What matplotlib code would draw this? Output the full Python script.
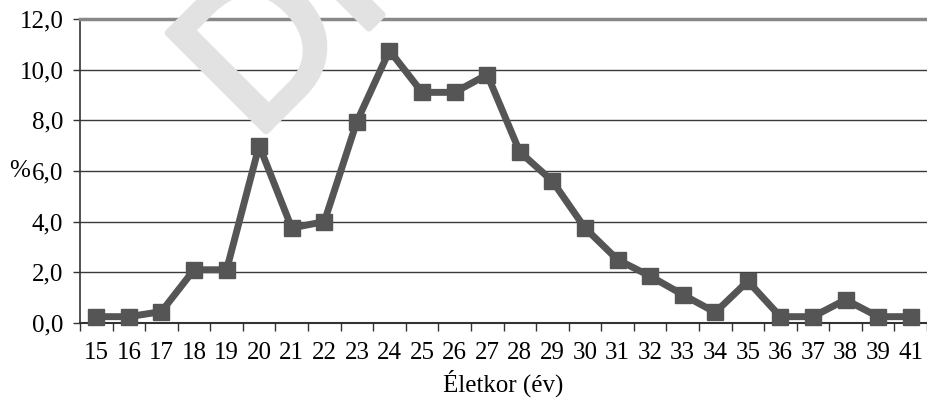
import matplotlib
matplotlib.use("Agg")
import matplotlib.pyplot as plt
import matplotlib.patheffects as pe
import numpy as np

ages = ["15", "16", "17", "18", "19", "20", "21", "22", "23", "24", "25", "26", "27",
        "28", "29", "30", "31", "32", "33", "34", "35", "36", "37", "38", "39", "41"]
percent = [0.25, 0.25, 0.45, 2.1, 2.1, 7.0, 3.75, 4.0, 7.95, 10.75, 9.1, 9.1, 9.8,
           6.75, 5.6, 3.75, 2.5, 1.85, 1.12, 0.42, 1.65, 0.25, 0.25, 0.92, 0.25, 0.25]
yticks = [0, 2, 4, 6, 8, 10, 12]
ytick_labels = ["0,0", "2,0", "4,0", "6,0", "8,0", "10,0", "12,0"]
xlabel = "Életkor (év)"
ylabel = "%"

plt.rcParams['font.family'] = ['Liberation Serif', 'DejaVu Serif']

fig = plt.figure(figsize=(9.27, 4.01), dpi=100)
ax = fig.add_axes([0.0863, 0.1945, 0.9137, 0.7585])

# watermark
fig.text(0.2744, 0.6444, "DRAFT", rotation=45, rotation_mode='anchor', ha='left', va='baseline',
         fontsize=145, family='Liberation Sans', color='#e2e2e2', zorder=0,
         path_effects=[pe.withStroke(linewidth=5, foreground='#e2e2e2')])
ax.patch.set_alpha(0)

x = np.arange(len(ages))
ax.plot(x, percent, color='#555555', lw=5, marker='s', markersize=11,
        markerfacecolor='#555555', markeredgecolor='#555555', zorder=3, clip_on=False)

ax.set_xlim(-0.5, len(ages) - 0.5)
ax.set_ylim(0, 12)
ax.set_yticks(yticks)
ax.set_yticklabels(ytick_labels, fontsize=18)
ax.set_xticks(x)
ax.set_xticklabels(ages, fontsize=18)
ax.tick_params(axis='x', length=0, pad=14)
ax.set_xticks(np.arange(len(ages) + 1) - 0.5, minor=True)
ax.tick_params(axis='x', which='minor', length=6, width=1, color='#333333', direction='out')
ax.tick_params(axis='y', length=5, width=1, color='#333333', direction='out', pad=7)

for y in yticks[1:-1]:
    ax.axhline(y, color='#3a3a3a', lw=1, zorder=1)

ax.spines['right'].set_visible(False)
ax.spines['top'].set_color('#888888')
ax.spines['top'].set_linewidth(2.5)
ax.spines['left'].set_color('#333333')
ax.spines['left'].set_linewidth(1.2)
ax.spines['bottom'].set_color('#333333')
ax.spines['bottom'].set_linewidth(1.5)

ax.set_xlabel(xlabel, fontsize=18, labelpad=4)
ax.set_ylabel(ylabel, fontsize=18, rotation=0, va='center', labelpad=0)

fig.savefig("out.png", dpi=100)
